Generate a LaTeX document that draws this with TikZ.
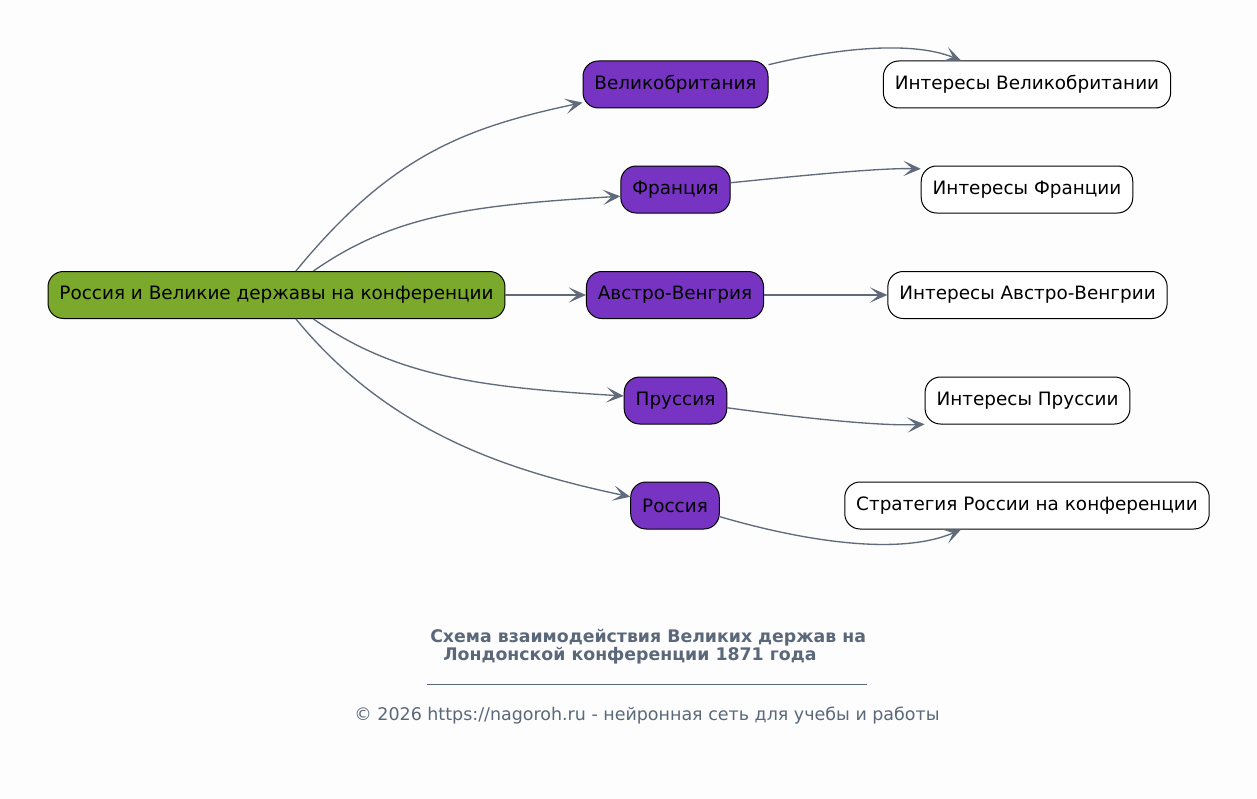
\documentclass[tikz,border=0pt]{standalone}
\usepackage{fontspec}
\setmainfont{DejaVu Sans}
\usetikzlibrary{arrows.meta}
\definecolor{bgc}{RGB}{253,253,253}
\definecolor{rootc}{RGB}{122,169,43}
\definecolor{powc}{RGB}{119,52,194}
\definecolor{edgec}{RGB}{95,107,122}
\definecolor{titc}{RGB}{90,104,122}
\tikzset{
  base/.style={draw=black, line width=0.75pt, rounded corners=11.5pt, minimum height=35.25pt, inner xsep=8.6pt, font=\fontsize{13.8}{16}\selectfont, text=black},
  rootbox/.style={base, fill=rootc},
  powbox/.style={base, fill=powc},
  intbox/.style={base, fill=white},
  conn/.style={draw=edgec, line width=1pt, -{Stealth[length=13pt, width=11.5pt, inset=6.5pt]}},
}
\begin{document}
\begin{tikzpicture}[x=0.75pt, y=-0.75pt]
\useasboundingbox (0,0) rectangle (1257,799);
\fill[bgc] (0,0) rectangle (1257,799);

\node[rootbox] (root) at (276.5,295) {Россия и Великие державы на конференции};
\node[powbox] (gb) at (675.5,84.5) {Великобритания};
\node[powbox] (fr) at (675.5,189.5) {Франция};
\node[powbox] (au) at (675,295) {Австро-Венгрия};
\node[powbox] (pr) at (675.5,400.5) {Пруссия};
\node[powbox] (ru) at (675,505.5) {Россия};

\node[intbox] (igb) at (1027,84.5) {Интересы Великобритании};
\node[intbox] (ifr) at (1027,189.5) {Интересы Франции};
\node[intbox] (iau) at (1027.5,295) {Интересы Австро-Венгрии};
\node[intbox] (ipr) at (1027.5,400.5) {Интересы Пруссии};
\node[intbox] (iru) at (1027,505.5) {Стратегия России на конференции};

\draw[conn] (root.51) .. controls +(95,-116) and +(-117,25) .. (gb.191);
\draw[conn] (root.33) .. controls +(80,-56) and +(-150,9) .. (fr.187);
\draw[conn] (root.east) -- (au.west);
\draw[conn] (root.-33) .. controls +(80,56) and +(-150,-9) .. (pr.175);
\draw[conn] (root.-51) .. controls +(95,116) and +(-117,-25) .. (ru.169);

\draw[conn] (gb.12) .. controls +(62,-15) and +(-52,-21) .. (igb.160);
\draw[conn] (fr.7) .. controls +(70,-7) and +(-42,-1) .. (ifr.169);
\draw[conn] (au.east) -- (iau.west);
\draw[conn] (pr.-8) .. controls +(73,10) and +(-46,2) .. (ipr.193);
\draw[conn] (ru.-14) .. controls +(82,24) and +(-62,27) .. (iru.200);

\node[anchor=west, text=titc, font=\fontsize{13}{15}\selectfont\bfseries, inner sep=0pt] (t1) at (430,638) {Схема взаимодействия Великих держав на};
\node[anchor=west, text=titc, font=\fontsize{13}{15}\selectfont\bfseries, inner sep=0pt] (t2) at (443,656) {Лондонской конференции 1871 года};
\coordinate (la) at (427,684);
\coordinate (lb) at (867,684);
\draw[titc, line width=0.6pt] (la) -- (lb);
\node[text=titc, font=\fontsize{13.1}{15}\selectfont, inner sep=0pt] (foot) at (647,716) {© 2026 https://nagoroh.ru - нейронная сеть для учебы и работы};
\end{tikzpicture}
\end{document}
